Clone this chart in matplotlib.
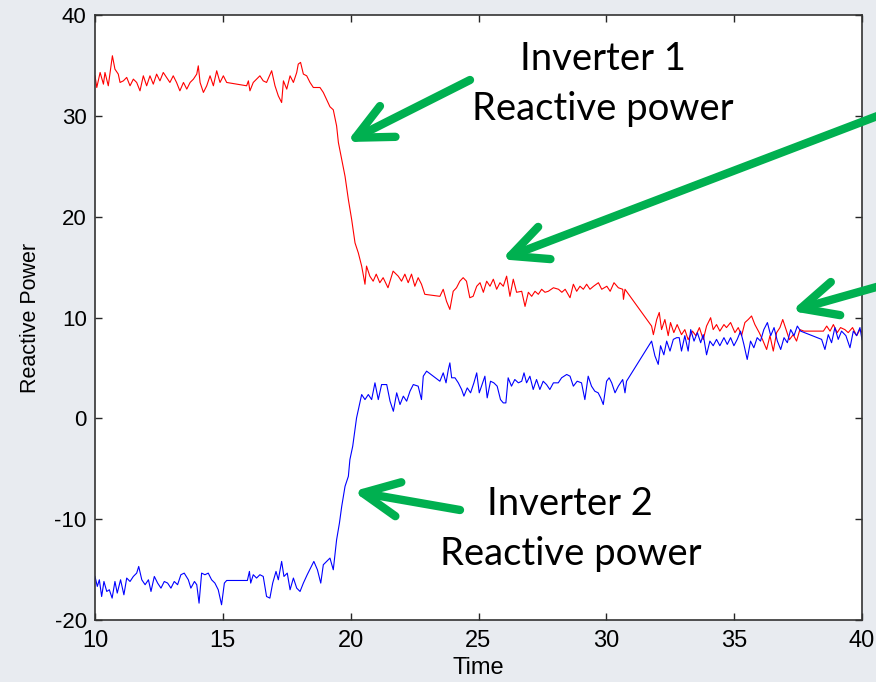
import matplotlib
matplotlib.use('Agg')
import matplotlib.pyplot as plt

plt.rcParams['axes.unicode_minus'] = False

# Inverter 1 reactive power (red)
red_t = [10.0, 10.07, 10.2, 10.33, 10.39, 10.52, 10.68, 10.78, 10.91, 10.98,
         11.11, 11.24, 11.37, 11.5, 11.63, 11.76, 11.89, 12.02, 12.15, 12.28,
         12.41, 12.54, 12.67, 12.8, 12.93, 13.06, 13.19, 13.32, 13.46, 13.59,
         13.72, 13.85, 13.98, 14.04, 14.11, 14.24, 14.37, 14.5, 14.63, 14.76,
         14.89, 15.02, 15.15, 15.93, 16.0, 16.06, 16.19, 16.32, 16.45, 16.58,
         16.71, 16.91, 17.04, 17.17, 17.3, 17.37, 17.5, 17.63, 17.76, 17.89,
         17.95, 18.04, 18.15, 18.28, 18.41, 18.54, 18.8, 18.93, 19.06, 19.19,
         19.32, 19.45, 19.52, 19.65, 19.78, 19.91, 20.04, 20.17, 20.3, 20.43,
         20.56, 20.62, 20.75, 20.88, 21.0, 21.14, 21.27, 21.46, 21.66, 21.86,
         21.99, 22.12, 22.25, 22.38, 22.51, 22.64, 22.77, 22.9, 23.49, 23.62,
         23.75, 23.88, 24.01, 24.14, 24.27, 24.4, 24.53, 24.66, 24.79, 24.93,
         25.06, 25.19, 25.32, 25.45, 25.58, 25.71, 25.84, 25.97, 26.1, 26.23,
         26.36, 26.49, 26.69, 26.82, 26.95, 27.08, 27.21, 27.34, 27.47, 27.6,
         27.73, 27.93, 28.13, 28.26, 28.39, 28.58, 28.71, 28.84, 28.97, 29.1,
         29.23, 29.36, 29.5, 29.69, 29.82, 30.02, 30.15, 30.3, 30.47, 30.64,
         30.67, 30.73, 31.77, 31.84, 31.97, 32.07, 32.16, 32.29, 32.42, 32.51,
         32.64, 32.77, 32.94, 33.07, 33.2, 33.37, 33.5, 33.64, 33.79, 33.92,
         34.08, 34.18, 34.31, 34.44, 34.6, 34.7, 34.86, 35.03, 35.16, 35.29,
         35.42, 35.55, 35.68, 35.81, 35.98, 36.11, 36.27, 36.4, 36.53, 36.66,
         36.79, 36.9, 37.03, 37.16, 37.31, 37.44, 37.57, 37.73, 38.49, 38.62,
         38.75, 38.88, 39.03, 39.16, 39.33, 39.46, 39.63, 39.79, 39.92, 40.0]
red_q = [33.97, 32.81, 34.3, 33.14, 34.3, 32.98, 35.96, 34.63, 34.14, 33.31,
         33.47, 33.81, 32.98, 33.64, 33.31, 32.48, 33.97, 32.98, 33.97, 33.14,
         34.14, 33.47, 34.3, 33.81, 33.31, 33.97, 33.31, 32.48, 33.31, 32.65,
         33.31, 33.64, 34.14, 34.96, 33.31, 32.32, 32.98, 33.97, 32.98, 34.47,
         33.31, 33.97, 33.31, 32.98, 33.47, 32.48, 33.31, 33.64, 33.97, 33.47,
         33.31, 34.47, 32.98, 31.98, 31.32, 33.47, 32.65, 33.97, 33.31, 34.3,
         35.13, 35.3, 34.14, 33.97, 33.31, 32.81, 32.81, 32.32, 31.6, 30.9,
         30.6, 29.0, 27.35, 25.7, 24.0, 21.7, 19.7, 17.4, 16.4, 15.1,
         13.3, 15.1, 14.1, 13.6, 14.3, 13.45, 13.95, 12.95, 14.6, 14.1,
         13.6, 14.3, 13.45, 14.3, 13.1, 13.95, 13.3, 12.3, 12.1, 12.8,
         11.6, 10.8, 12.6, 12.95, 13.6, 13.95, 13.6, 11.96, 12.1, 13.1,
         13.45, 12.5, 13.6, 13.1, 13.8, 12.8, 13.45, 13.1, 14.1, 12.1,
         13.8, 12.5, 12.6, 11.1, 12.5, 12.1, 12.6, 12.3, 12.8, 12.5,
         12.6, 12.95, 12.8, 12.5, 12.8, 11.96, 13.3, 12.6, 13.1, 12.8,
         13.3, 12.8, 13.1, 13.45, 12.8, 13.1, 12.6, 13.45, 12.95, 12.8,
         11.8, 12.8, 9.15, 8.3, 9.8, 10.5, 8.8, 9.8, 8.2, 9.5,
         8.5, 9.3, 8.3, 8.8, 7.8, 8.65, 8.2, 9.0, 7.8, 9.15,
         9.98, 8.8, 9.3, 8.65, 9.3, 9.0, 9.5, 8.5, 9.0, 8.2,
         9.5, 9.8, 10.15, 9.3, 8.5, 7.8, 6.83, 8.2, 6.67, 8.5,
         9.0, 9.8, 8.8, 7.8, 8.3, 7.66, 8.8, 8.65, 8.65, 9.15,
         8.65, 9.3, 8.5, 9.0, 8.8, 8.5, 9.0, 8.2, 8.8, 8.5]

# Inverter 2 reactive power (blue)
blue_t = [10.0, 10.09, 10.17, 10.26, 10.35, 10.46, 10.56, 10.67, 10.78, 10.87,
          11.0, 11.13, 11.24, 11.37, 11.5, 11.63, 11.71, 11.83, 11.96, 12.09,
          12.19, 12.32, 12.45, 12.58, 12.71, 12.84, 12.97, 13.1, 13.23, 13.36,
          13.49, 13.65, 13.75, 13.89, 13.98, 14.07, 14.17, 14.3, 14.43, 14.56,
          14.69, 14.82, 14.95, 15.06, 15.15, 15.96, 16.04, 16.09, 16.19, 16.32,
          16.45, 16.58, 16.71, 16.84, 16.95, 17.08, 17.17, 17.3, 17.39, 17.52,
          17.63, 17.76, 17.89, 18.02, 18.15, 18.3, 18.43, 18.56, 18.7, 18.83,
          18.93, 19.06, 19.19, 19.32, 19.39, 19.45, 19.56, 19.65, 19.78, 19.91,
          19.97, 20.08, 20.17, 20.23, 20.3, 20.43, 20.56, 20.69, 20.82, 20.95,
          21.08, 21.21, 21.41, 21.54, 21.67, 21.8, 21.93, 22.06, 22.19, 22.32,
          22.45, 22.64, 22.77, 22.84, 22.97, 23.49, 23.62, 23.73, 23.82, 23.88,
          23.95, 24.08, 24.21, 24.34, 24.43, 24.56, 24.69, 24.82, 24.93, 25.03,
          25.16, 25.25, 25.34, 25.47, 25.6, 25.73, 25.86, 25.97, 26.07, 26.16,
          26.29, 26.42, 26.56, 26.69, 26.78, 26.88, 27.01, 27.14, 27.27, 27.4,
          27.53, 27.66, 27.79, 27.93, 28.12, 28.25, 28.45, 28.58, 28.71, 28.86,
          29.03, 29.16, 29.29, 29.42, 29.55, 29.68, 29.78, 29.88, 30.01, 30.11,
          30.21, 30.34, 30.47, 30.64, 30.73, 30.79, 31.77, 31.9, 32.03, 32.12,
          32.25, 32.36, 32.49, 32.62, 32.75, 32.85, 32.94, 33.07, 33.2, 33.3,
          33.43, 33.56, 33.69, 33.79, 33.92, 34.05, 34.18, 34.31, 34.44, 34.6,
          34.73, 34.86, 34.99, 35.12, 35.25, 35.38, 35.51, 35.64, 35.77, 35.9,
          36.03, 36.16, 36.3, 36.43, 36.56, 36.69, 36.82, 36.95, 37.08, 37.21,
          37.34, 37.47, 37.6, 38.42, 38.55, 38.68, 38.81, 38.94, 39.07, 39.2,
          39.37, 39.53, 39.66, 39.79, 39.92, 40.0]
blue_q = [-15.68, -16.67, -16.01, -17.67, -16.18, -17.17, -17.0, -17.83, -16.18, -17.33,
          -16.01, -17.5, -15.84, -16.18, -15.68, -15.35, -14.69, -16.01, -16.5, -16.01,
          -17.17, -15.68, -16.34, -16.84, -16.18, -16.34, -16.84, -16.18, -16.5, -15.51,
          -15.35, -16.01, -16.84, -16.18, -16.5, -18.33, -15.35, -15.51, -15.35, -16.01,
          -16.34, -17.0, -18.49, -16.34, -16.08, -16.08, -15.18, -16.34, -15.51, -15.84,
          -15.51, -15.68, -17.67, -17.83, -16.34, -15.18, -16.01, -14.19, -15.68, -15.35,
          -17.0, -15.84, -16.84, -17.17, -16.34, -15.51, -14.85, -14.19, -15.02, -16.34,
          -14.52, -14.19, -13.86, -15.02, -13.37, -12.04, -10.4, -8.73, -6.74, -5.75,
          -4.09, -2.77, -1.11, 0.04, 0.87, 2.36, 1.86, 2.36, 1.86, 3.52,
          1.86, 3.35, 3.35, 1.7, 0.7, 2.53, 1.37, 2.2, 1.7, 2.69,
          3.35, 3.19, 1.86, 4.18, 4.68, 3.68, 4.51, 3.52, 4.84, 5.5,
          4.02, 4.02, 3.52, 2.86, 2.2, 3.02, 2.53, 3.52, 4.51, 2.53,
          3.52, 4.18, 2.03, 3.68, 3.52, 3.19, 1.86, 1.53, 1.53, 4.02,
          3.19, 3.85, 3.52, 3.68, 4.51, 3.52, 4.18, 2.86, 3.85, 2.86,
          3.68, 3.35, 2.86, 3.52, 3.52, 4.02, 4.35, 4.18, 3.19, 3.68,
          3.52, 1.86, 4.18, 3.19, 2.69, 2.53, 2.03, 1.37, 3.68, 4.02,
          3.52, 2.53, 3.19, 3.85, 2.53, 3.68, 7.66, 6.2, 5.35, 7.2,
          6.3, 7.66, 6.67, 7.83, 8.0, 8.0, 6.67, 8.2, 6.67, 8.8,
          7.66, 8.5, 7.5, 8.3, 6.3, 7.66, 7.2, 7.83, 7.2, 8.0,
          7.33, 8.0, 7.2, 7.83, 8.65, 7.33, 5.84, 7.66, 7.0, 8.0,
          7.66, 8.8, 9.5, 8.2, 9.0, 7.66, 6.83, 8.0, 7.5, 8.8,
          8.2, 9.15, 8.65, 7.83, 6.83, 8.3, 7.5, 9.0, 7.83, 8.65,
          8.2, 7.0, 8.65, 8.2, 9.0, 7.8]

x_ticks = [10, 15, 20, 25, 30, 35, 40]
y_ticks = [-20, -10, 0, 10, 20, 30, 40]

GREEN = '#00b050'
W, H = 876, 682


def px(x, y):
    # pixel position from the top-left corner -> figure fraction
    return x / W, 1 - y / H


fig = plt.figure(figsize=(W / 100, H / 100), dpi=100, facecolor='#e8ebf0')
ax = fig.add_axes([95 / W, 62 / H, 767 / W, 605 / H])

ax.plot(red_t, red_q, color='#ff0000', lw=0.8)
ax.plot(blue_t, blue_q, color='#0000ff', lw=0.8)

ax.set_xlim(10, 40)
ax.set_ylim(-20, 40)
ax.set_xticks(x_ticks)
ax.set_yticks(y_ticks)
ax.tick_params(direction='in', length=5, width=1, top=True, right=True,
               colors='#262626', labelcolor='black')
ax.tick_params(axis='y', labelsize=16, pad=6)
ax.tick_params(axis='x', pad=7)
for lab in ax.get_xticklabels():
    lab.set_family(['Liberation Sans Narrow', 'Liberation Sans'])
    lab.set_fontsize(17)
for lab in ax.get_yticklabels():
    lab.set_family('Liberation Sans')
for s in ax.spines.values():
    s.set_linewidth(1.2)
    s.set_color('#333333')

ax.set_xlabel('Time', family=['Liberation Sans Narrow', 'Liberation Sans'],
              fontsize=17, labelpad=4)
ax.set_ylabel('Reactive Power', family='Liberation Sans', fontsize=15.5,
              labelpad=10)

# green callout arrows: tip on the curve, tail in pixels of the figure
arrows = [
    ((19.85, 27.4), (470, 80)),
    ((25.9, 15.77), (880, 115)),
    ((37.24, 10.64), (880, 286)),
    ((20.1, -7.24), (460, 510)),
]
for tip, tail in arrows:
    ax.annotate('', xy=tip, xycoords='data',
                xytext=px(*tail), textcoords='figure fraction',
                annotation_clip=False,
                arrowprops=dict(arrowstyle='->,head_length=1.3,head_width=0.62',
                                mutation_scale=20, lw=6, color=GREEN,
                                capstyle='round', joinstyle='round',
                                shrinkA=0, shrinkB=0))

label_font = dict(family=['Lato', 'DejaVu Sans'], fontsize=27.5, color='black',
                  ha='center', va='baseline')
fig.text(*px(603, 70), 'Inverter 1', **label_font)
fig.text(*px(603, 120), 'Reactive power', **label_font)
fig.text(*px(570, 515), 'Inverter 2', **label_font)
fig.text(*px(571, 565), 'Reactive power', **label_font)

fig.savefig('out.png', dpi=100, facecolor=fig.get_facecolor())
